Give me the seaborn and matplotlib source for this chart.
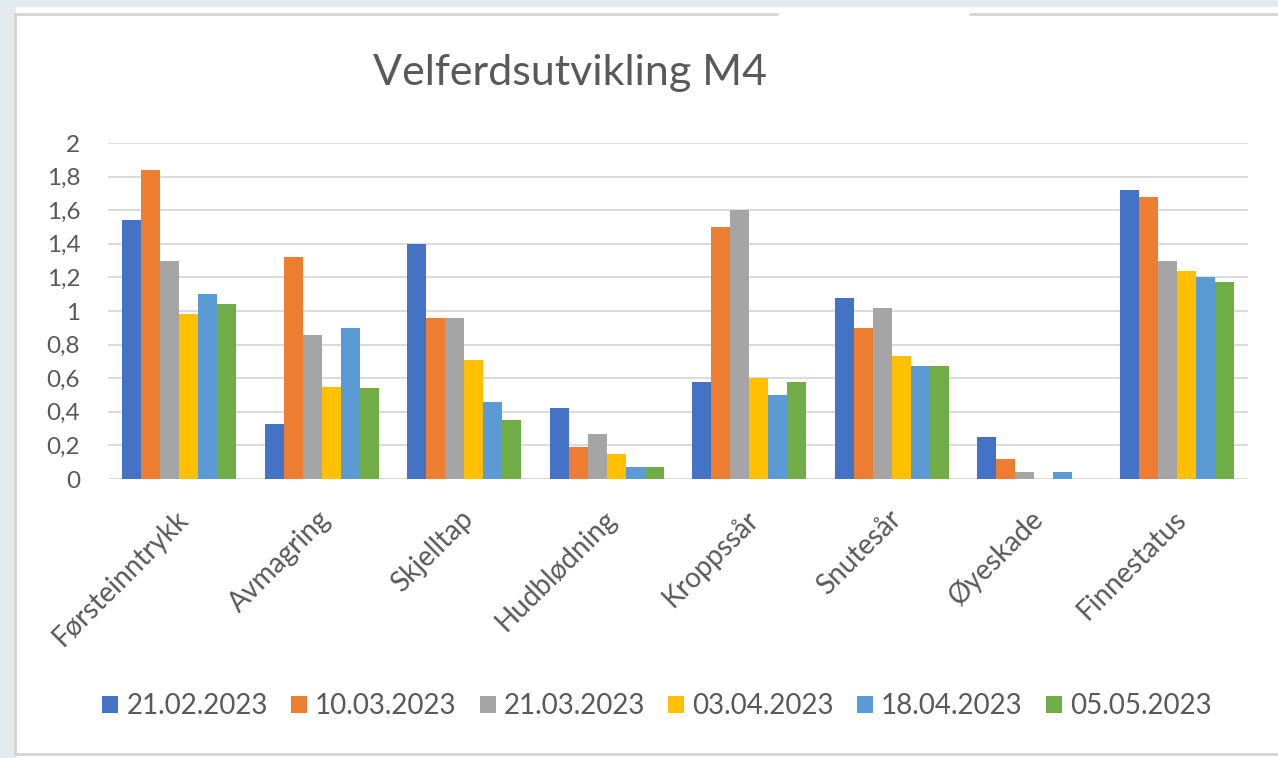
import pandas as pd
import matplotlib.pyplot as plt
import seaborn as sns
import numpy as np
from matplotlib.patches import Rectangle
from matplotlib.lines import Line2D
from matplotlib.ticker import FuncFormatter
from matplotlib.transforms import ScaledTranslation

sns.set_theme(style="white")
plt.rcParams['font.family'] = ['Lato', 'DejaVu Sans']

# Data
kategorier = ['Førsteinntrykk', 'Avmagring', 'Skjelltap', 'Hudblødning',
              'Kroppssår', 'Snutesår', 'Øyeskade', 'Finnestatus']
datoer = ['21.02.2023', '10.03.2023', '21.03.2023', '03.04.2023', '18.04.2023', '05.05.2023']
v_2102 = [1.54, 0.33, 1.40, 0.42, 0.58, 1.08, 0.25, 1.72]
v_1003 = [1.84, 1.32, 0.96, 0.19, 1.50, 0.90, 0.12, 1.68]
v_2103 = [1.30, 0.86, 0.96, 0.27, 1.60, 1.02, 0.04, 1.30]
v_0304 = [0.98, 0.55, 0.71, 0.15, 0.60, 0.73, 0.00, 1.24]
v_1804 = [1.10, 0.90, 0.46, 0.07, 0.50, 0.67, 0.04, 1.20]
v_0505 = [1.04, 0.54, 0.35, 0.07, 0.58, 0.67, 0.00, 1.17]
farger = ['#4472C4', '#ED7D31', '#A5A5A5', '#FFC000', '#5B9BD5', '#70AD47']

serier = [v_2102, v_1003, v_2103, v_0304, v_1804, v_0505]
df = pd.DataFrame({
    'kategori': kategorier * len(datoer),
    'dato': np.repeat(datoer, len(kategorier)),
    'verdi': np.concatenate(serier),
})

tekstfarge = '#595959'
W, H = 1278, 758
fig = plt.figure(figsize=(W / 100, H / 100), dpi=100)
fig.patch.set_facecolor('white')

def fx(x):
    return x / W

def fy(y):
    return 1 - y / H

# Bakgrunn og ramme
bg = '#e4ebee'
fig.add_artist(Rectangle((0, 0), fx(15), 1, transform=fig.transFigure, color=bg, zorder=0))
fig.add_artist(Rectangle((0, fy(6)), 1, 6 / H, transform=fig.transFigure, color=bg, zorder=0))
kant = '#d4d4d4'
fig.add_artist(Line2D([fx(15), fx(15)], [fy(14), fy(754)], transform=fig.transFigure, color=kant, lw=2))
fig.add_artist(Line2D([fx(15), fx(777)], [fy(14), fy(14)], transform=fig.transFigure, color=kant, lw=2))
fig.add_artist(Line2D([fx(970), 1], [fy(14), fy(14)], transform=fig.transFigure, color=kant, lw=2))
fig.add_artist(Line2D([fx(15), 1], [fy(754), fy(754)], transform=fig.transFigure, color=kant, lw=2))

ax = fig.add_axes([fx(108), fy(479), fx(1248) - fx(108), (479 - 143) / H])
sns.barplot(data=df, x='kategori', y='verdi', hue='dato', hue_order=datoer,
            order=kategorier, palette=farger, saturation=1, width=0.8,
            errorbar=None, linewidth=0, ax=ax, zorder=3)

ax.set_ylim(0, 2)
ax.set_xlim(-0.5, 7.5)
ax.set_yticks(np.arange(0, 2.01, 0.2))
ax.yaxis.set_major_formatter(FuncFormatter(lambda v, p: f'{round(v, 1):g}'.replace('.', ',')))
ax.grid(axis='y', color='#d9d9d9', linewidth=1.3, zorder=0)
ax.set_axisbelow(True)
for s in ax.spines.values():
    s.set_visible(False)
ax.set_xlabel('')
ax.set_ylabel('')
ax.tick_params(axis='y', length=0, pad=20, labelsize=17.5, labelcolor=tekstfarge)
ax.tick_params(axis='x', length=0, pad=26, labelsize=20, labelcolor=tekstfarge)
ax.set_xticks(range(len(kategorier)))
ax.set_xticklabels(kategorier, rotation=45, ha='right', va='center', rotation_mode='anchor')
forskyv = ScaledTranslation(5 / 100, 0, fig.dpi_scale_trans)
for lbl in ax.get_xticklabels():
    lbl.set_transform(lbl.get_transform() + forskyv)

handles, labels = ax.get_legend_handles_labels()
ax.legend_.remove()
fig.legend(handles, labels, loc='center', bbox_to_anchor=(fx(657), fy(706)), ncol=6,
           frameon=False, fontsize=20, labelcolor=tekstfarge, handlelength=0.58,
           handleheight=0.58, handletextpad=0.29, columnspacing=0.83)

fig.text(fx(570), fy(73), 'Velferdsutvikling M4', ha='center', va='center',
         fontsize=31, color=tekstfarge)

fig.savefig('out.png', dpi=100, facecolor=fig.get_facecolor())
